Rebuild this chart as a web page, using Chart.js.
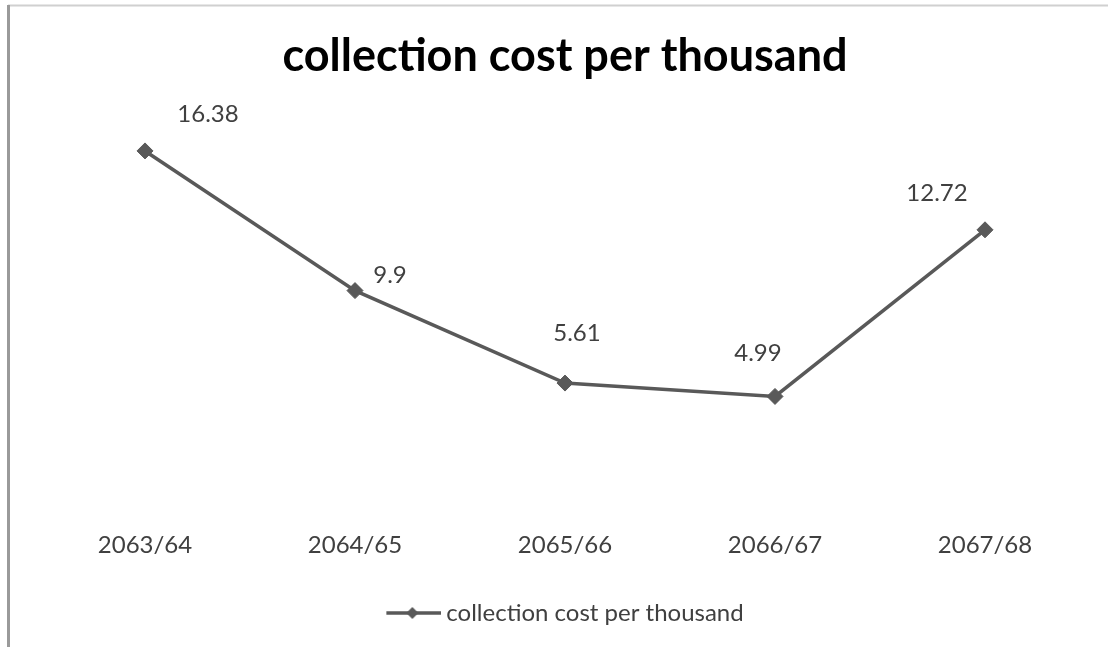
<!DOCTYPE html>
<html>
<head>
<meta charset="utf-8">
<script src="https://cdn.jsdelivr.net/npm/chart.js@4.4.1/dist/chart.umd.min.js"></script>
<style>
  html, body { margin: 0; padding: 0; background: #fff; }
  #wrap { position: relative; width: 1108px; height: 647px; }
</style>
</head>
<body>
<div id="wrap"><canvas id="c" width="1108" height="647"></canvas></div>
<script>
const categories = ['2063/64', '2064/65', '2065/66', '2066/67', '2067/68'];
const values = [16.38, 9.9, 5.61, 4.99, 12.72];
const valueLabels = ['16.38', '9.9', '5.61', '4.99', '12.72'];
const seriesName = 'collection cost per thousand';
const chartTitle = 'collection cost per thousand';

const LINE = '#595959';
const TEXT = '#404040';
const FONT = 'Lato, "Open Sans", sans-serif';

// legend symbol: short line with a diamond
const sym = document.createElement('canvas');
sym.width = 62; sym.height = 16;
(function () {
  const g = sym.getContext('2d');
  g.strokeStyle = LINE; g.lineWidth = 3.5;
  g.beginPath(); g.moveTo(7, 8); g.lineTo(62, 8); g.stroke();
  g.fillStyle = LINE;
  g.beginPath(); g.moveTo(33, 2); g.lineTo(39, 8); g.lineTo(33, 14); g.lineTo(27, 8); g.closePath(); g.fill();
})();

const labelOffsets = [[63, -37], [35, -15], [12, -50], [-17, -43], [-48, -37]];

const framePlugin = {
  id: 'frame',
  beforeDraw(chart) {
    const ctx = chart.ctx;
    ctx.save();
    ctx.fillStyle = '#ffffff';
    ctx.fillRect(0, 0, chart.width, chart.height);
    ctx.strokeStyle = '#d0d0d0';
    ctx.lineWidth = 2;
    ctx.beginPath(); ctx.moveTo(8, 5.5); ctx.lineTo(chart.width, 5.5); ctx.stroke();
    ctx.strokeStyle = '#9a9a9a';
    ctx.lineWidth = 3;
    ctx.beginPath(); ctx.moveTo(8.5, 5); ctx.lineTo(8.5, chart.height); ctx.stroke();
    ctx.restore();
  }
};

const valueLabelPlugin = {
  id: 'valueLabels',
  afterDatasetsDraw(chart) {
    const ctx = chart.ctx;
    const meta = chart.getDatasetMeta(0);
    ctx.save();
    ctx.fillStyle = TEXT;
    ctx.font = '24px ' + FONT;
    ctx.textAlign = 'center';
    ctx.textBaseline = 'middle';
    meta.data.forEach((pt, i) => {
      const o = labelOffsets[i];
      ctx.fillText(valueLabels[i], pt.x + o[0], pt.y + o[1]);
    });
    ctx.restore();
  }
};

new Chart(document.getElementById('c'), {
  type: 'line',
  data: {
    labels: categories,
    datasets: [{
      label: seriesName,
      data: values,
      borderColor: LINE,
      backgroundColor: LINE,
      borderWidth: 3.5,
      pointStyle: 'rectRot',
      pointRadius: 8,
      pointBackgroundColor: LINE,
      pointBorderColor: LINE,
      pointBorderWidth: 1,
      tension: 0,
      fill: false
    }]
  },
  options: {
    responsive: false,
    animation: false,
    devicePixelRatio: 1,
    layout: { padding: { left: 40, right: 18, top: 0, bottom: 12 } },
    plugins: {
      title: {
        display: true,
        text: chartTitle,
        color: '#000000',
        font: { family: FONT, size: 45, weight: 'bold' },
        padding: { top: 29, bottom: 33 }
      },
      legend: {
        display: true,
        position: 'bottom',
        labels: {
          usePointStyle: true,
          pointStyleWidth: 48,
          color: TEXT,
          font: { family: FONT, size: 24 },
          padding: 10,
          generateLabels(chart) {
            return [{
              text: seriesName,
              pointStyle: sym,
              fillStyle: LINE,
              strokeStyle: LINE,
              lineWidth: 0,
              fontColor: TEXT,
              datasetIndex: 0,
              hidden: false
            }];
          }
        }
      },
      tooltip: { enabled: false }
    },
    scales: {
      x: {
        offset: true,
        grid: { display: false, drawTicks: false },
        border: { display: false },
        ticks: { color: TEXT, font: { family: FONT, size: 24 }, padding: 27, maxRotation: 0 },
        afterFit(scale) { scale.height = 87; }
      },
      y: {
        display: false,
        min: 0,
        max: 18
      }
    }
  },
  plugins: [framePlugin, valueLabelPlugin]
});
</script>
</body>
</html>
